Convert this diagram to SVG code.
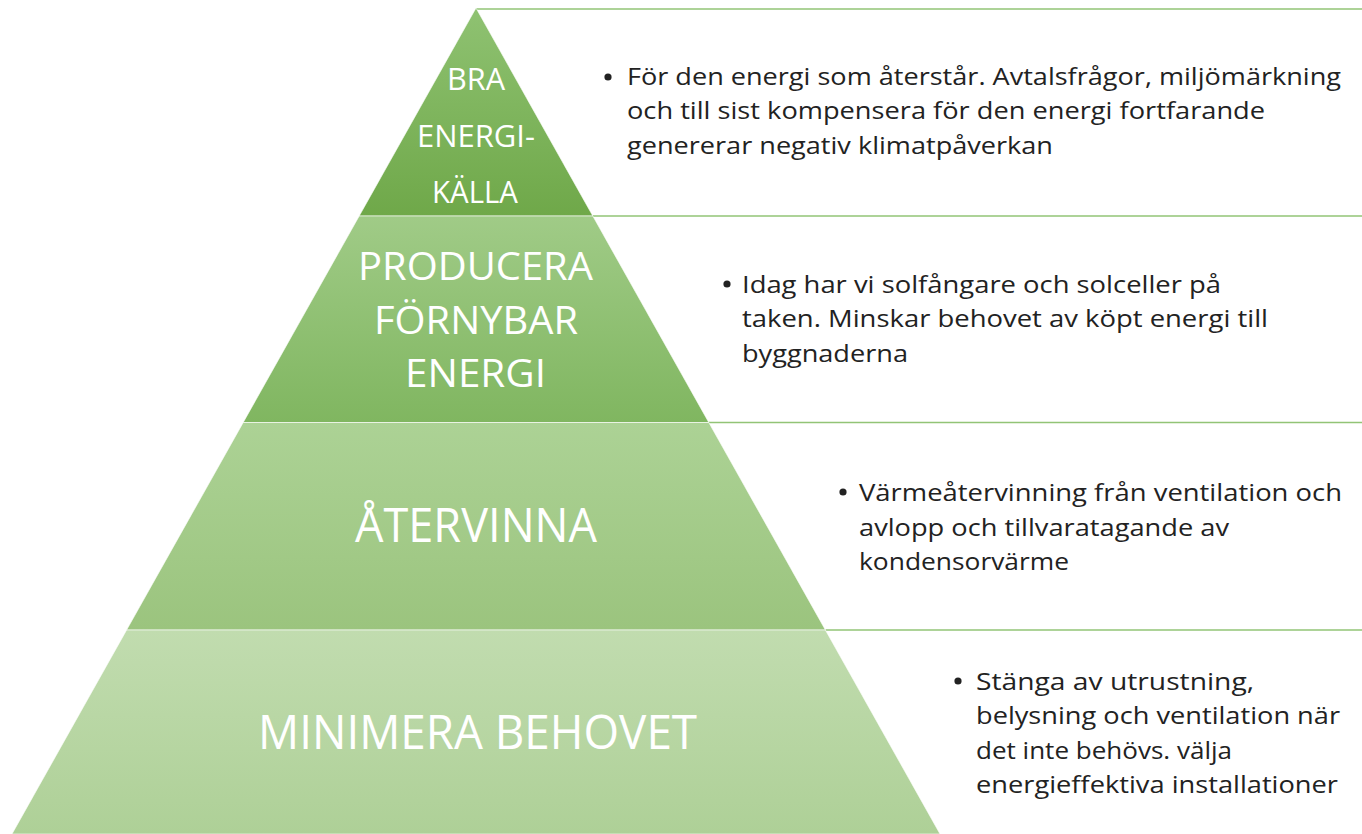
<svg xmlns="http://www.w3.org/2000/svg" width="1362" height="834" viewBox="0 0 1362 834">
  <defs>
    <linearGradient id="g1" x1="0" y1="0" x2="0" y2="1">
      <stop offset="0" stop-color="#8fc272"/>
      <stop offset="1" stop-color="#6fa849"/>
    </linearGradient>
    <linearGradient id="g2" x1="0" y1="0" x2="0" y2="1">
      <stop offset="0" stop-color="#a0cb87"/>
      <stop offset="1" stop-color="#80b660"/>
    </linearGradient>
    <linearGradient id="g3" x1="0" y1="0" x2="0" y2="1">
      <stop offset="0" stop-color="#acd295"/>
      <stop offset="1" stop-color="#9bc47e"/>
    </linearGradient>
    <linearGradient id="g4" x1="0" y1="0" x2="0" y2="1">
      <stop offset="0" stop-color="#c1dcaf"/>
      <stop offset="1" stop-color="#aed097"/>
    </linearGradient>
  </defs>
  <style>
    .layer { stroke: #ffffff; stroke-opacity: 0.6; stroke-width: 1; }
    .rule { stroke: #92c476; stroke-width: 1.6; fill: none; }
    .lbl { font-family: "Open Sans", "Liberation Sans", sans-serif; fill: #ffffff; }
    .body { font-family: "Open Sans", "Liberation Sans", sans-serif; font-size: 23px; fill: #222222; }
    .dot { fill: #222222; }
  </style>
  <rect width="1362" height="834" fill="#ffffff"/>

  <g id="dividers">
    <line class="rule" x1="476" y1="9" x2="1362" y2="9"/>
    <line class="rule" x1="592.8" y1="216" x2="1362" y2="216"/>
    <line class="rule" x1="708.8" y1="422.5" x2="1362" y2="422.5"/>
    <line class="rule" x1="825.4" y1="630" x2="1362" y2="630"/>
  </g>

  <g id="level-1">
    <polygon class="layer" fill="url(#g1)" points="476,8 592.8,216 359.2,216"/>
    <text class="lbl" font-size="31" x="447" y="90" textLength="58" lengthAdjust="spacingAndGlyphs">BRA</text>
    <text class="lbl" font-size="31" x="417" y="147" textLength="118" lengthAdjust="spacingAndGlyphs">ENERGI-</text>
    <text class="lbl" font-size="31" x="432" y="203" textLength="86" lengthAdjust="spacingAndGlyphs">KÄLLA</text>
    <circle class="dot" cx="608" cy="77" r="3.6"/>
    <text class="body" x="627" y="85" textLength="714" lengthAdjust="spacingAndGlyphs">För den energi som återstår. Avtalsfrågor, miljömärkning</text>
    <text class="body" x="627" y="119" textLength="638" lengthAdjust="spacingAndGlyphs">och till sist kompensera för den energi fortfarande</text>
    <text class="body" x="627" y="153.5" textLength="426" lengthAdjust="spacingAndGlyphs">genererar negativ klimatpåverkan</text>
  </g>

  <g id="level-2">
    <polygon class="layer" fill="url(#g2)" points="359.2,216 592.8,216 708.8,422.5 243.2,422.5"/>
    <text class="lbl" font-size="39" x="358" y="280" textLength="235" lengthAdjust="spacingAndGlyphs">PRODUCERA</text>
    <text class="lbl" font-size="39" x="374" y="334" textLength="204" lengthAdjust="spacingAndGlyphs">FÖRNYBAR</text>
    <text class="lbl" font-size="39" x="405" y="387" textLength="141" lengthAdjust="spacingAndGlyphs">ENERGI</text>
    <circle class="dot" cx="727" cy="284" r="3.6"/>
    <text class="body" x="742" y="292.5" textLength="479" lengthAdjust="spacingAndGlyphs">Idag har vi solfångare och solceller på</text>
    <text class="body" x="742" y="327" textLength="526" lengthAdjust="spacingAndGlyphs">taken. Minskar behovet av köpt energi till</text>
    <text class="body" x="742" y="361.5" textLength="166" lengthAdjust="spacingAndGlyphs">byggnaderna</text>
  </g>

  <g id="level-3">
    <polygon class="layer" fill="url(#g3)" points="243.2,422.5 708.8,422.5 825.4,630 126.6,630"/>
    <text class="lbl" font-size="48" x="355" y="542" textLength="242" lengthAdjust="spacingAndGlyphs">ÅTERVINNA</text>
    <circle class="dot" cx="843" cy="492" r="3.6"/>
    <text class="body" x="859" y="501" textLength="483" lengthAdjust="spacingAndGlyphs">Värmeåtervinning från ventilation och</text>
    <text class="body" x="859" y="535.5" textLength="370" lengthAdjust="spacingAndGlyphs">avlopp och tillvaratagande av</text>
    <text class="body" x="859" y="570" textLength="210" lengthAdjust="spacingAndGlyphs">kondensorvärme</text>
  </g>

  <g id="level-4">
    <polygon class="layer" fill="url(#g4)" points="126.6,630 825.4,630 940,834 12,834"/>
    <text class="lbl" font-size="48" x="258" y="749" textLength="439" lengthAdjust="spacingAndGlyphs">MINIMERA BEHOVET</text>
    <circle class="dot" cx="958" cy="681" r="3.6"/>
    <text class="body" x="976" y="689.5" textLength="278" lengthAdjust="spacingAndGlyphs">Stänga av utrustning,</text>
    <text class="body" x="976" y="724" textLength="364" lengthAdjust="spacingAndGlyphs">belysning och ventilation när</text>
    <text class="body" x="976" y="758.5" textLength="256" lengthAdjust="spacingAndGlyphs">det inte behövs. välja</text>
    <text class="body" x="976" y="793" textLength="362" lengthAdjust="spacingAndGlyphs">energieffektiva installationer</text>
  </g>
</svg>
